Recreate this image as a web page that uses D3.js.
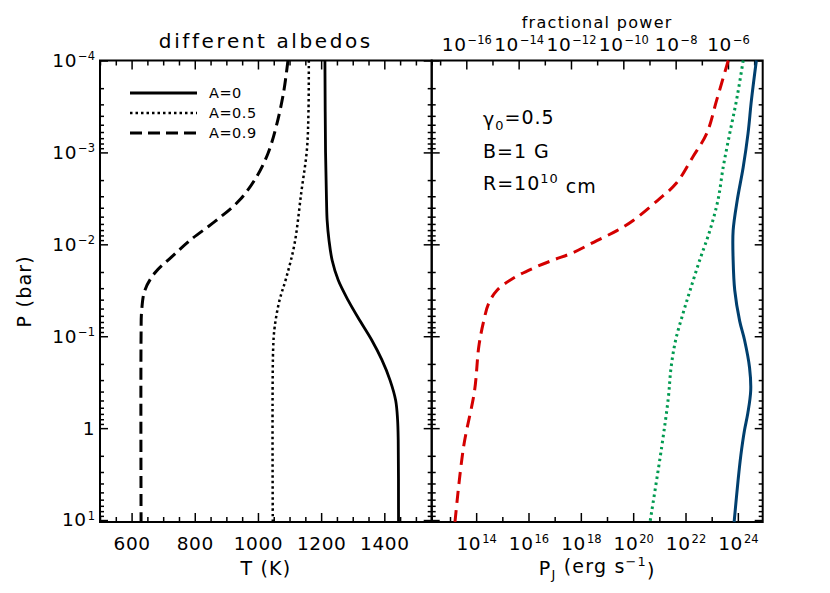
<!DOCTYPE html>
<html>
<head>
<meta charset="utf-8">
<script src="https://d3js.org/d3.v7.min.js"></script>
<style>
  body { margin: 0; background: #fff; }
  text { font-family: "DejaVu Sans", sans-serif; fill: #000; }
</style>
</head>
<body>
<div id="chart"></div>
<script>
// left panel: temperature profiles, P in bar, T in K
var pA0  = [1e-4, 1e-3, 3.3e-3, 5.5e-3, 9.1e-3, 1.5e-2, 2.45e-2, 4.1e-2, 6.8e-2, 0.11, 0.18, 0.30, 0.5, 0.81, 1.35, 10.5];
var tA0  = [1212, 1214, 1217, 1219, 1225, 1235, 1254, 1286, 1323, 1360, 1392, 1418, 1436, 1442, 1444, 1445];
var pA05 = [1e-4, 3.5e-4, 9.3e-4, 2.75e-3, 9.8e-3, 2.29e-2, 4.1e-2, 7.9e-2, 0.14, 10.5];
var tA05 = [1161, 1160, 1155, 1137, 1116, 1090, 1068, 1053, 1048, 1047];
var pA09 = [1e-4, 2.24e-4, 5.2e-4, 1.02e-3, 1.86e-3, 3.3e-3, 5.5e-3, 9.1e-3, 1.38e-2, 2.04e-2, 3.16e-2, 5.2e-2, 0.1, 10.5];
var tA09 = [1095, 1081, 1058, 1032, 995, 942, 868, 784, 726, 674, 642, 632, 630, 630];

// right panel: ohmic power P_J in erg/s
var pBlue  = [1e-4, 2.7e-4, 6.2e-4, 1.45e-3, 3.3e-3, 7.1e-3, 1.48e-2, 3.16e-2, 6.8e-2, 0.11, 0.22, 0.39, 0.69, 1.07, 1.98, 3.7, 10.5];
var pjBlue = [5.1e24, 3.3e24, 2.45e24, 1.6e24, 9.5e23, 6.6e23, 6.6e23, 7.6e23, 1.17e24, 1.8e24, 2.8e24, 3.1e24, 2.4e24, 1.78e24, 1.3e24, 1.02e24, 7.2e23];
var pGreen  = [1e-4, 2.7e-4, 6.2e-4, 1.45e-3, 3.3e-3, 7.1e-3, 1.48e-2, 3.16e-2, 5.6e-2, 0.11, 0.22, 0.47, 1.6, 10.5];
var pjGreen = [1.6e24, 8.9e23, 4.9e23, 2.75e23, 1.74e23, 8.5e22, 3.5e22, 1.5e22, 8.1e21, 4.2e21, 2.8e21, 2.2e21, 1.23e21, 4.4e20];
var pRed  = [1e-4, 2.7e-4, 6.2e-4, 1.12e-3, 2.14e-3, 3.3e-3, 5.5e-3, 7.1e-3, 9.1e-3, 1.23e-2, 1.48e-2, 1.82e-2, 2.34e-2, 3.16e-2, 4.4e-2, 6.8e-2, 0.13, 0.39, 1.6, 10.5];
var pjRed = [4.3e23, 1.55e23, 6.5e22, 1.9e22, 4.6e21, 8.9e20, 1.0e20, 2.4e19, 4.1e18, 5.1e17, 8.9e16, 1.5e16, 2.6e15, 6.3e14, 3.0e14, 1.95e14, 1.26e14, 8.7e13, 3.3e13, 1.55e13];

// axes
var pRange = [1e-4, 10.5];
var tRange = [500, 1550];
var pjRange = [2.0e12, 8.9e24];
var refPower = 4.2e29;           // P_J / refPower = fractional power
var pMajor = [1e-4, 1e-3, 1e-2, 1e-1, 1, 10];
var tMajor = [600, 800, 1000, 1200, 1400];
var pjMajor = [1e14, 1e16, 1e18, 1e20, 1e22, 1e24];
var pjMinor = [1e13, 1e15, 1e17, 1e19, 1e21, 1e23];
var fracMajor = [1e-16, 1e-14, 1e-12, 1e-10, 1e-8, 1e-6];
var fracMinor = [1e-17, 1e-15, 1e-13, 1e-11, 1e-9, 1e-7, 1e-5];
var legendLabels = ["A=0", "A=0.5", "A=0.9"];

var W = 830, H = 593;
var top_ = 60.5, bottom = 522, left = 100, mid = 431.7, right = 762.7;

var svg = d3.select("#chart").append("svg").attr("width", W).attr("height", H);
svg.append("rect").attr("width", W).attr("height", H).attr("fill", "#fff");

var y = d3.scaleLog().domain(pRange).range([top_, bottom]);
var xT = d3.scaleLinear().domain(tRange).range([left, mid]);
var xP = d3.scaleLog().domain(pjRange).range([mid, right]);
var xF = d3.scaleLog().domain([pjRange[0] / refPower, pjRange[1] / refPower]).range([mid, right]);

function isPow(d) { var l = Math.log10(d); return Math.abs(l - Math.round(l)) < 1e-6; }
var pMinor = y.ticks().filter(function (d) { return !isPow(d); });
var tMinor = d3.range(500, 1551, 50).filter(function (d) { return tMajor.indexOf(d) < 0; });

function powLabels(g) {
  g.selectAll(".tick text").each(function (d) {
    var e = Math.round(Math.log10(d));
    var t = d3.select(this).text(null);
    if (e === 0) { t.text("1"); return; }
    t.append("tspan").text("10");
    t.append("tspan").attr("dy", "-0.6em").attr("dx", "1").attr("font-size", "0.62em")
      .attr("letter-spacing", 0).text(e < 0 ? "\u2212" + (-e) : e);
  });
}
function style(g) {
  g.select(".domain").remove();
  g.selectAll(".tick line").attr("stroke", "#000").attr("stroke-width", 1.5);
  g.selectAll(".tick text").attr("font-size", 18.5).attr("letter-spacing", 0.6)
    .attr("font-family", "DejaVu Sans, sans-serif").attr("fill", "#000");
}
function addAxis(axis, tx, ty, labels) {
  var g = svg.append("g").attr("transform", "translate(" + tx + "," + ty + ")").call(axis);
  style(g);
  if (labels === "pow") powLabels(g);
  return g;
}

// ---- left panel axes
addAxis(d3.axisLeft(y).tickValues(pMajor).tickSize(-8).tickPadding(5), left, 0, "pow");
addAxis(d3.axisLeft(y).tickValues(pMinor).tickSize(-4).tickFormat(""), left, 0);
addAxis(d3.axisRight(y).tickValues(pMajor).tickSize(-8).tickFormat(""), mid, 0);
addAxis(d3.axisRight(y).tickValues(pMinor).tickSize(-4).tickFormat(""), mid, 0);
addAxis(d3.axisBottom(xT).tickValues(tMajor).tickSize(-9).tickPadding(15).tickFormat(d3.format("d")), 0, bottom);
addAxis(d3.axisBottom(xT).tickValues(tMinor).tickSize(-5).tickFormat(""), 0, bottom);
addAxis(d3.axisTop(xT).tickValues(tMajor).tickSize(-9).tickFormat(""), 0, top_);
addAxis(d3.axisTop(xT).tickValues(tMinor).tickSize(-5).tickFormat(""), 0, top_);

// ---- right panel axes
addAxis(d3.axisLeft(y).tickValues(pMajor).tickSize(-8).tickFormat(""), mid, 0);
addAxis(d3.axisLeft(y).tickValues(pMinor).tickSize(-4).tickFormat(""), mid, 0);
addAxis(d3.axisRight(y).tickValues(pMajor).tickSize(-8).tickFormat(""), right, 0);
addAxis(d3.axisRight(y).tickValues(pMinor).tickSize(-4).tickFormat(""), right, 0);
addAxis(d3.axisBottom(xP).tickValues(pjMajor).tickSize(-9).tickPadding(15), 0, bottom, "pow");
addAxis(d3.axisBottom(xP).tickValues(pjMinor).tickSize(-5).tickFormat(""), 0, bottom);
addAxis(d3.axisTop(xF).tickValues(fracMajor).tickSize(-9).tickPadding(10), 0, top_, "pow");
addAxis(d3.axisTop(xF).tickValues(fracMinor).tickSize(-5).tickFormat(""), 0, top_);

// frames
[[left, mid], [mid, right]].forEach(function (p) {
  svg.append("rect").attr("x", p[0]).attr("y", top_).attr("width", p[1] - p[0]).attr("height", bottom - top_)
    .attr("fill", "none").attr("stroke", "#000").attr("stroke-width", 2);
});

// ---- curves
function zip(ps, vs) { return ps.map(function (p, i) { return { p: p, v: vs[i] }; }); }
var smooth = d3.curveCatmullRom.alpha(0.5);
var lineT = d3.line().x(function (d) { return xT(d.v); }).y(function (d) { return y(d.p); }).curve(smooth);
var lineP = d3.line().x(function (d) { return xP(d.v); }).y(function (d) { return y(d.p); }).curve(smooth);

var leftSeries = [
  { d: zip(pA0, tA0), dash: null, w: 2.8 },
  { d: zip(pA05, tA05), dash: "2.5,3", w: 2.5 },
  { d: zip(pA09, tA09), dash: "12,6", w: 3 }
];
leftSeries.forEach(function (s) {
  svg.append("path").attr("d", lineT(s.d)).attr("fill", "none").attr("stroke", "#000")
    .attr("stroke-width", s.w).attr("stroke-dasharray", s.dash);
});
var rightSeries = [
  { d: zip(pBlue, pjBlue), c: "#003f6e", dash: null, w: 3 },
  { d: zip(pGreen, pjGreen), c: "#009a50", dash: "2.5,3.5", w: 3 },
  { d: zip(pRed, pjRed), c: "#d40000", dash: "12,7", w: 3 }
];
rightSeries.forEach(function (s) {
  svg.append("path").attr("d", lineP(s.d)).attr("fill", "none").attr("stroke", s.c)
    .attr("stroke-width", s.w).attr("stroke-dasharray", s.dash);
});

// legend
legendLabels.forEach(function (lab, i) {
  var s = leftSeries[i], ly = 93 + i * 20;
  svg.append("line").attr("x1", 130).attr("x2", 197).attr("y1", ly).attr("y2", ly)
    .attr("stroke", "#000").attr("stroke-width", s.w).attr("stroke-dasharray", s.dash);
  svg.append("text").attr("x", 209).attr("y", ly + 5).attr("font-size", 14.5).attr("letter-spacing", 0.5).text(lab);
});

// titles & labels
svg.append("text").attr("x", (left + mid) / 2).attr("y", 48).attr("text-anchor", "middle")
  .attr("font-size", 20).attr("letter-spacing", 2.6).text("different albedos");
svg.append("text").attr("x", (mid + right) / 2).attr("y", 28).attr("text-anchor", "middle")
  .attr("font-size", 16).attr("letter-spacing", 1.3).text("fractional power");
svg.append("text").attr("x", (left + mid) / 2).attr("y", 575).attr("text-anchor", "middle")
  .attr("font-size", 19).attr("letter-spacing", 1.2).text("T (K)");
var pj = svg.append("text").attr("x", (mid + right) / 2).attr("y", 575).attr("text-anchor", "middle")
  .attr("font-size", 19).attr("letter-spacing", 1.2);
pj.append("tspan").text("P");
pj.append("tspan").attr("font-size", "0.68em").attr("dy", "0.3em").text("J");
pj.append("tspan").attr("dy", "-0.3em").text(" (erg s");
pj.append("tspan").attr("font-size", "0.68em").attr("dy", "-0.55em").text("\u22121");
pj.append("tspan").attr("dy", "0.55em").text(")");
svg.append("text").attr("transform", "translate(31," + (top_ + bottom) / 2 + ") rotate(-90)")
  .attr("text-anchor", "middle").attr("font-size", 19).attr("letter-spacing", 1.2).text("P (bar)");

// annotations
var g0 = svg.append("text").attr("x", 483).attr("y", 126).attr("font-size", 19).attr("letter-spacing", 1);
g0.append("tspan").text("\u03b3");
g0.append("tspan").attr("font-size", "0.68em").attr("dy", "0.3em").text("0");
g0.append("tspan").attr("dy", "-0.3em").text("=0.5");
svg.append("text").attr("x", 483).attr("y", 158).attr("font-size", 19).attr("letter-spacing", 1).text("B=1 G");
var rr = svg.append("text").attr("x", 483).attr("y", 190).attr("font-size", 19).attr("letter-spacing", 1);
rr.append("tspan").text("R=10");
rr.append("tspan").attr("font-size", "0.68em").attr("dy", "-0.55em").text("10");
rr.append("tspan").attr("dy", "0.55em").text(" cm");
</script>
</body>
</html>
